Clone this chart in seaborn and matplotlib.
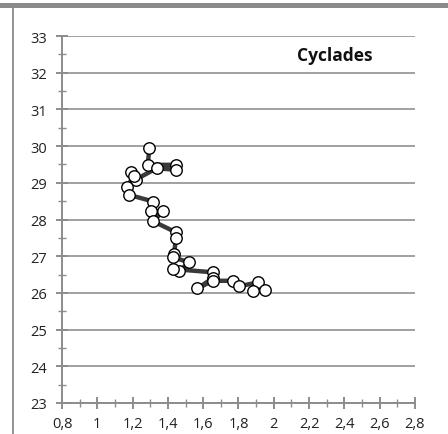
import matplotlib
matplotlib.use("Agg")
import matplotlib.pyplot as plt
import seaborn as sns
import pandas as pd
from matplotlib.ticker import MultipleLocator, FuncFormatter
from matplotlib.lines import Line2D

# Core profile: value (x) against depth level (y), in sampling order
values = [1.295, 1.286, 1.444, 1.448, 1.337, 1.219, 1.189, 1.208, 1.166, 1.181,
          1.317, 1.302, 1.370, 1.317, 1.446, 1.446, 1.435, 1.431, 1.520, 1.465,
          1.431, 1.657, 1.654, 1.567, 1.654, 1.770, 1.805, 1.912, 1.880, 1.950]
levels = [29.95, 29.49, 29.49, 29.35, 29.40, 29.09, 29.30, 29.18, 28.89, 28.67,
          28.49, 28.24, 28.22, 27.95, 27.65, 27.50, 27.06, 26.97, 26.83, 26.60,
          26.65, 26.56, 26.40, 26.12, 26.33, 26.33, 26.18, 26.29, 26.06, 26.09]
title = "Cyclades"

df = pd.DataFrame({"x": values, "y": levels})

sns.set_style("white")
plt.rcParams["font.family"] = ["Open Sans", "DejaVu Sans"]

fig = plt.figure(figsize=(4.48, 4.35), dpi=100)
ax = fig.add_axes([0.1384, 0.0713, 0.7879, 0.8436])

grey = "#8c8c8c"
sns.lineplot(data=df, x="x", y="y", sort=False, estimator=None, ax=ax,
             color="#3a3a3a", linewidth=3.2, zorder=3)
sns.scatterplot(data=df, x="x", y="y", ax=ax, s=68, color="white",
                edgecolor="black", linewidth=1.0, zorder=4)

ax.set_xlim(0.8, 2.8)
ax.set_ylim(23, 33)
ax.xaxis.set_major_locator(MultipleLocator(0.2))
ax.xaxis.set_minor_locator(MultipleLocator(0.1))
ax.yaxis.set_major_locator(MultipleLocator(1))
ax.yaxis.set_minor_locator(MultipleLocator(0.5))
ax.xaxis.set_major_formatter(FuncFormatter(lambda v, p: f"{v:.1f}".rstrip("0").rstrip(".").replace(".", ",")))
ax.yaxis.set_major_formatter(FuncFormatter(lambda v, p: f"{int(round(v))}"))

ax.grid(axis="y", which="major", color="#a0a0a0", linewidth=1.4)
ax.grid(axis="x", visible=False)
ax.set_axisbelow(True)
for side in ("top", "right"):
    ax.spines[side].set_visible(False)
for side in ("left", "bottom"):
    ax.spines[side].set_color(grey)
    ax.spines[side].set_linewidth(1.4)

ax.tick_params(which="both", bottom=True, left=True)
ax.tick_params(which="major", direction="inout", length=9, width=1.4, color=grey,
               labelsize=10.5, labelcolor="#222222")
ax.tick_params(which="minor", direction="inout", length=6, width=1.0, color=grey)
ax.tick_params(axis="y", pad=6)
ax.tick_params(axis="x", pad=5)
ax.set_xlabel("")
ax.set_ylabel("")

ax.text(0.773, 0.948, title, transform=ax.transAxes, ha="center", va="center",
        fontsize=12.5, fontweight="bold", color="#111111")

# Outer frame: thick band on top, thin rule on the left
fig.add_artist(Line2D([0, 1], [1 - 5.5 / 435, 1 - 5.5 / 435], transform=fig.transFigure,
                      color="#8a8a8a", linewidth=3.6))
fig.add_artist(Line2D([13 / 448, 13 / 448], [0, 1 - 7 / 435], transform=fig.transFigure,
                      color="#8a8a8a", linewidth=1.3))

fig.savefig("out.png", dpi=100)
